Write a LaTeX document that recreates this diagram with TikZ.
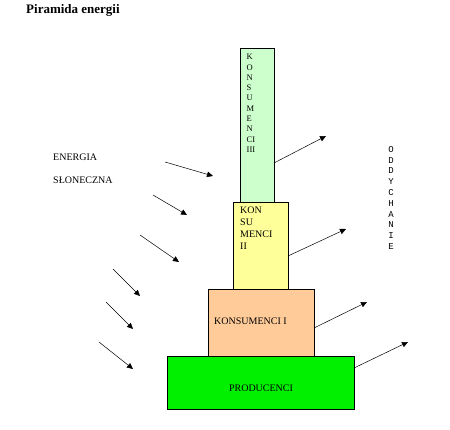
\documentclass[tikz,border=0pt]{standalone}
\usepackage{fontspec}
\setmainfont{Liberation Serif}
\newfontfamily\monofnt{Liberation Mono}
\usetikzlibrary{arrows.meta}
\definecolor{cIII}{HTML}{CCFFCC}
\definecolor{cII}{HTML}{FFFF99}
\definecolor{cI}{HTML}{FFCC99}
\definecolor{cP}{HTML}{00F000}
\tikzset{
  lvl/.style={draw=black, line width=0.7pt, anchor=north west, inner sep=0pt, outer sep=0pt},
  txt/.style={inner sep=0pt, font=\fontsize{10}{12}\selectfont},
  arr/.style={line width=0.5pt, -{Triangle[width=5.5pt,length=6pt]}},
}
\begin{document}
\begin{tikzpicture}[x=1pt,y=-1pt]
\useasboundingbox (0,0) rectangle (450,430);
% boxes
\node[lvl, fill=cIII, minimum width=34pt, minimum height=154pt] (b3) at (240,48) {};
\node[lvl, fill=cII, minimum width=55pt, minimum height=88pt] (b2) at (233,202) {};
\node[lvl, fill=cI, minimum width=106pt, minimum height=67pt] (b1) at (208,289) {};
\node[lvl, fill=cP, minimum width=187pt, minimum height=53pt] (b0) at (167,356) {};
% texts
\node[anchor=west, inner sep=0pt, font=\fontsize{13}{15}\selectfont\bfseries] (title) at (26,10) {Piramida energii};
\node[anchor=north west, align=left, inner sep=0pt, font=\fontsize{8.5}{10.3}\selectfont] (t3) at (246.5,54)
  {K\\O\\N\\S\\U\\M\\E\\N\\CI\\III};
\node[anchor=north west, align=left, txt] (t2) at (240,207) {KON\\SU\\MENCI\\II};
\node[anchor=west, txt] (t1) at (214,321) {KONSUMENCI I};
\node[txt] (t0) at (261,388) {PRODUCENCI};
\node[anchor=west, txt] (e1) at (53,157) {ENERGIA};
\node[anchor=west, txt] (e2) at (53,180) {SŁONECZNA};
\node[anchor=north, align=center, inner sep=0pt, font=\fontsize{9}{10.8}\selectfont\monofnt] (odd) at (391,146)
  {O\\D\\D\\Y\\C\\H\\A\\N\\I\\E};
% respiration arrows
\coordinate (r3s) at (274,163); \coordinate (r3e) at (326,136);
\coordinate (r2s) at (288,256); \coordinate (r2e) at (346,229);
\coordinate (r1s) at (314,328); \coordinate (r1e) at (367,302);
\coordinate (r0s) at (354,368); \coordinate (r0e) at (408,342);
\draw[arr] (r3s) -- (r3e);
\draw[arr] (r2s) -- (r2e);
\draw[arr] (r1s) -- (r1e);
\draw[arr] (r0s) -- (r0e);
% sunlight arrows
\coordinate (s1a) at (165,162); \coordinate (s1b) at (213,176);
\coordinate (s2a) at (153,195); \coordinate (s2b) at (187,215);
\coordinate (s3a) at (140,235); \coordinate (s3b) at (179,262);
\coordinate (s4a) at (113,269); \coordinate (s4b) at (140,296);
\coordinate (s5a) at (106,302); \coordinate (s5b) at (133,329);
\coordinate (s6a) at (99,342); \coordinate (s6b) at (133,369);
\foreach \i in {1,...,6} \draw[arr] (s\i a) -- (s\i b);
\end{tikzpicture}
\end{document}
